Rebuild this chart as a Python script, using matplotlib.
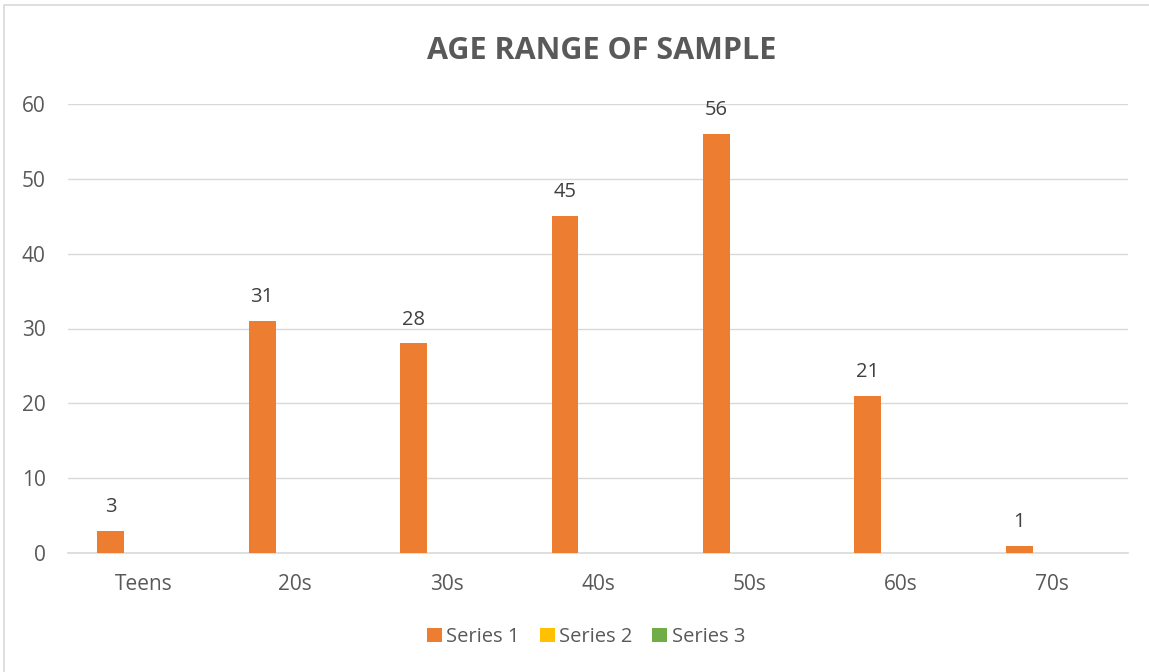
import matplotlib
matplotlib.use("Agg")
import matplotlib.pyplot as plt
from matplotlib.patches import Rectangle
import numpy as np

categories = ["Teens", "20s", "30s", "40s", "50s", "60s", "70s"]
series1 = [3, 31, 28, 45, 56, 21, 1]
series2 = [0, 0, 0, 0, 0, 0, 0]
series3 = [0, 0, 0, 0, 0, 0, 0]
series_names = ["Series 1", "Series 2", "Series 3"]
colors = ["#ED7D31", "#FFC000", "#70AD47"]
yticks = [0, 10, 20, 30, 40, 50, 60]

plt.rcParams['font.family'] = ['Open Sans', 'DejaVu Sans']
txt = "#595959"

fig = plt.figure(figsize=(11.49, 6.72), dpi=100)
fig.patches.append(Rectangle((4/1149, -0.01), 1.1, 1 - 5/672 + 0.01, transform=fig.transFigure,
                             fill=False, edgecolor="#D9D9D9", linewidth=1.2))
ax = fig.add_axes([68/1149, 1 - 553/672, (1128 - 68)/1149, (553 - 104)/672])

x = np.arange(len(categories))
w = 0.178
offs = [-0.218, -0.218 + w, -0.218 + 2 * w]
handles = []
for vals, name, c, o in zip([series1, series2, series3], series_names, colors, offs):
    b = ax.bar(x + o, vals, width=w, color=c, label=name, zorder=3)
    handles.append(b)

for xi, v in zip(x, series1):
    ax.annotate(str(v), (xi + offs[0], v), xytext=(0, 10), textcoords="offset points",
                ha="center", va="bottom", fontsize=14.5, color="#404040")

ax.set_xlim(-0.5, len(categories) - 0.5)
ax.set_ylim(0, 60)
ax.set_yticks(yticks)
ax.set_xticks(x)
ax.set_xticklabels(categories)
ax.grid(axis="y", color="#D9D9D9", linewidth=1, zorder=0)
for s in ["top", "right", "left"]:
    ax.spines[s].set_visible(False)
ax.spines["bottom"].set_color("#D9D9D9")
ax.spines["bottom"].set_linewidth(1.2)
ax.tick_params(axis="both", length=0, labelsize=15, colors=txt)
ax.tick_params(axis="x", pad=15)
ax.tick_params(axis="y", pad=16)

fig.text(602/1149, 1 - 51/672, "AGE RANGE OF SAMPLE", ha="center", va="center",
         fontsize=22, fontweight="bold", color=txt)

leg = fig.legend(handles=handles, labels=series_names, loc="center",
                 bbox_to_anchor=(586/1149, 1 - 637/672), ncol=3, frameon=False,
                 fontsize=14.5, handlelength=0.75, handleheight=0.75, handletextpad=0.2,
                 columnspacing=1.0)
for t in leg.get_texts():
    t.set_color(txt)

fig.savefig("out.png", dpi=100)
